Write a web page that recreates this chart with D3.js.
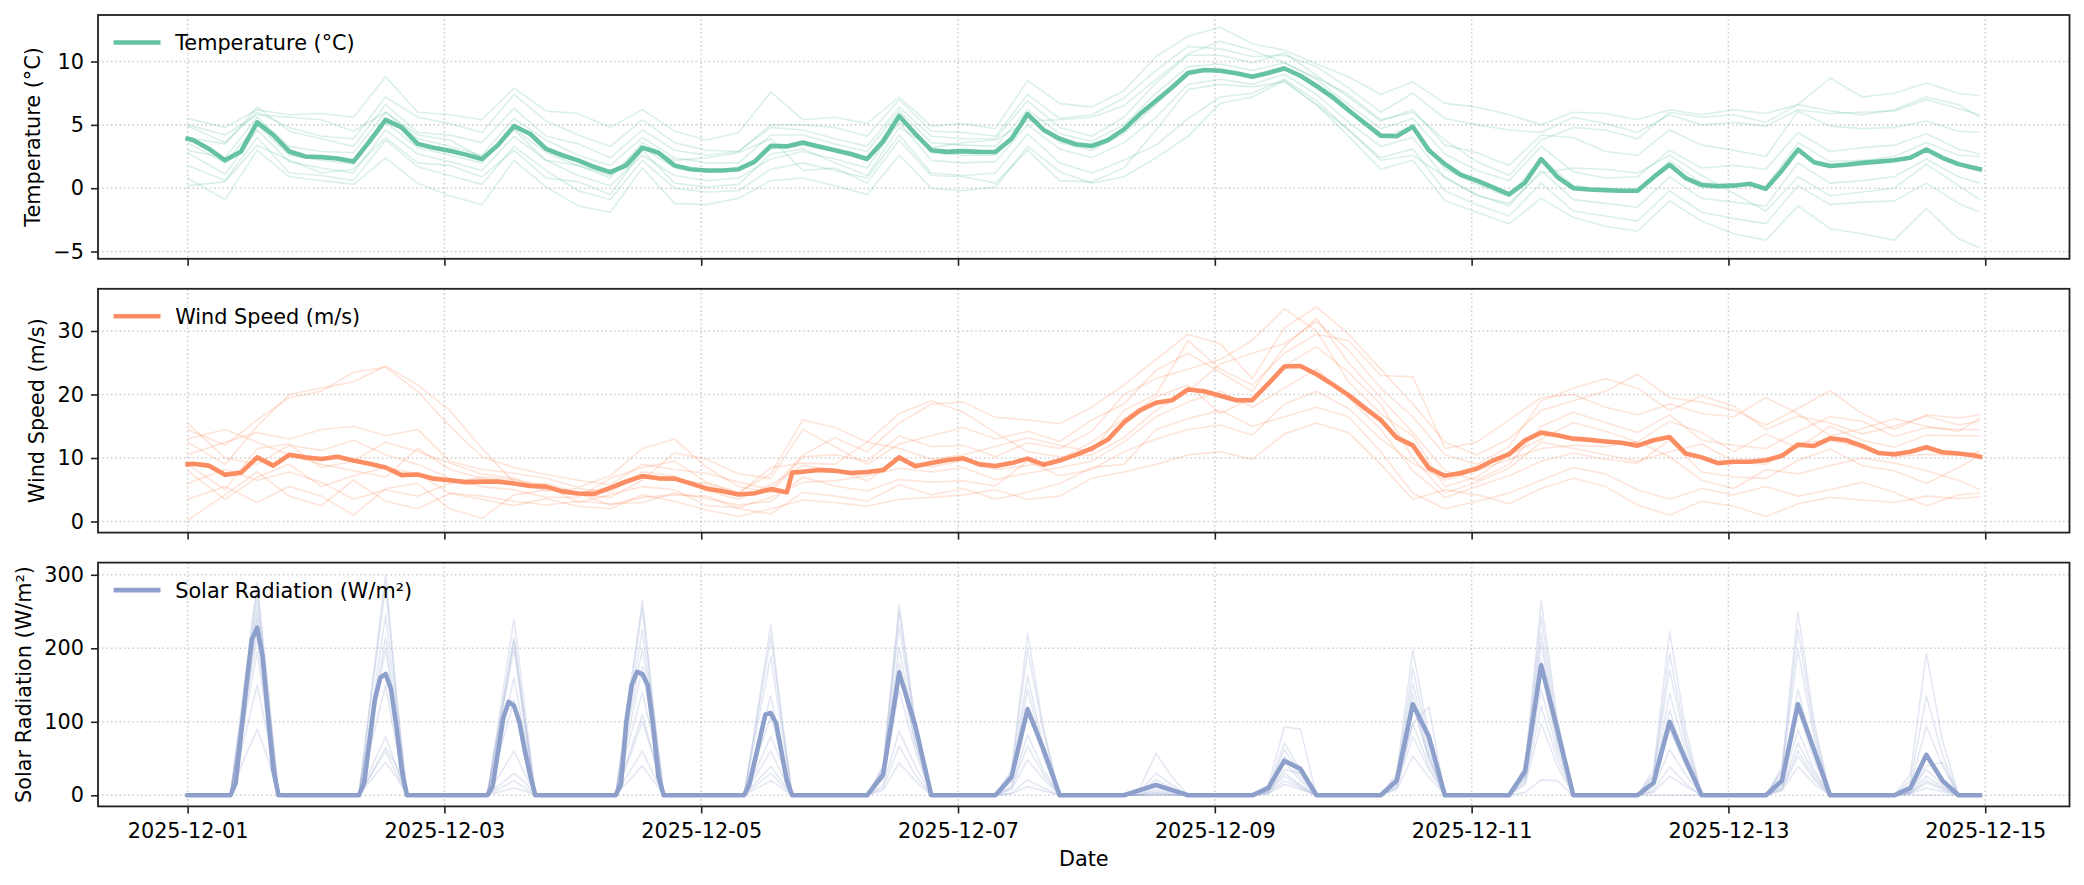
<!DOCTYPE html>
<html><head><meta charset="utf-8">
<script src="https://cdn.jsdelivr.net/npm/d3@7"></script>
<style>
body{margin:0;background:#fff}
svg{display:block}
text{font-family:"DejaVu Sans",sans-serif;fill:#000}
</style>
</head><body>
<svg id="chart" width="2084" height="885"></svg>
<script>
// ---------------- DATA ----------------
const startLabel = "2025-12-01";
const xTickLabels = ["2025-12-01","2025-12-03","2025-12-05","2025-12-07","2025-12-09","2025-12-11","2025-12-13","2025-12-15"];
const xLabel = "Date";

const seriesNames = ["Temperature (°C)", "Wind Speed (m/s)", "Solar Radiation (W/m²)"];
const seriesColors = ["#66c2a5", "#fc8d62", "#8da0cb"];
const tempTicks = [-5, 0, 5, 10];
const windTicks = [0, 10, 20, 30];
const solarTicks = [0, 100, 200, 300];
const tempDomain = [-5.575, 13.675];
const windDomain = [-1.745, 36.645];
const solarDomain = [-15.1, 316.6];

// hours since 2025-12-01 00:00 for the ensemble-mean samples (3-hourly)
const meanHours = [0, ...d3.range(1, 335, 3), 335];
// wind has an extra sample where the forecast source switches
const windHours = [...meanHours, 113].sort((a, b) => a - b);

const tempMean = [3.9,
  3.8, 3.1, 2.2, 2.9, 5.2, 4.2, 2.9, 2.5,
  2.45, 2.35, 2.1, 3.7, 5.4, 4.8, 3.5, 3.2,
  2.95, 2.65, 2.3, 3.4, 4.9, 4.3, 3.1, 2.6,
  2.2, 1.67, 1.27, 1.8, 3.2, 2.8, 1.8, 1.5,
  1.4, 1.4, 1.5, 2.1, 3.35, 3.3, 3.6, 3.3,
  3.0, 2.7, 2.3, 3.7, 5.7, 4.3, 3.0, 2.87,
  2.93, 2.87, 2.86, 3.9, 5.85, 4.6, 3.9, 3.47,
  3.33, 3.8, 4.65, 5.85, 6.9, 7.95, 9.1, 9.33,
  9.27, 9.07, 8.8, 9.1, 9.45, 8.88, 8.07, 7.2,
  6.15, 5.15, 4.15, 4.1, 4.85, 3.0, 1.9, 1.05,
  0.6, 0.07, -0.48, 0.45, 2.3, 0.9, 0.0, -0.1,
  -0.15, -0.2, -0.2, 0.87, 1.85, 0.8, 0.25, 0.15,
  0.2, 0.35, -0.05, 1.4, 3.05, 2.05, 1.75, 1.85,
  2.0, 2.1, 2.2, 2.4, 3.05, 2.4, 1.9, 1.6,
  1.5];

const windMean = [9.0,
  9.1, 8.8, 7.35, 7.7, 10.1, 8.8, 10.5, 10.1,
  9.85, 10.2, 9.6, 9.1, 8.5, 7.3, 7.4, 6.75,
  6.5, 6.2, 6.28, 6.28, 6.0, 5.6, 5.5, 4.75,
  4.4, 4.35, 5.3, 6.3, 7.15, 6.8, 6.75, 6.0,
  5.2, 4.75, 4.25, 4.45, 5.1, 4.6, 7.7, 7.85, 8.1,
  8.0, 7.65, 7.8, 8.1, 10.1, 8.7, 9.2, 9.7,
  9.95, 9.0, 8.74, 9.2, 9.9, 8.95, 9.6, 10.5,
  11.5, 12.9, 15.6, 17.5, 18.7, 19.1, 20.8, 20.5,
  19.8, 19.1, 19.1, 21.7, 24.4, 24.5, 23.2, 21.6,
  19.9, 17.9, 16.0, 13.2, 12.0, 8.4, 7.2, 7.65,
  8.35, 9.6, 10.6, 12.8, 14.0, 13.6, 13.05, 12.85,
  12.6, 12.4, 11.95, 12.8, 13.3, 10.7, 10.1, 9.2,
  9.4, 9.4, 9.65, 10.35, 12.1, 11.9, 13.1, 12.8,
  11.9, 10.8, 10.6, 11.0, 11.7, 10.9, 10.7, 10.4,
  10.2];

const solarHours = [0,
  8, 9, 11, 12, 13, 14, 15, 16, 17,
  32, 33, 35, 36, 37, 38, 39, 40, 41,
  56, 57, 59, 60, 61, 62, 63, 64, 65,
  80, 81, 82, 83, 84, 85, 86, 87, 88, 89,
  104, 105, 108, 109, 110, 112, 113,
  127, 130, 133, 136, 139,
  151, 154, 157, 160, 163,
  175, 178, 181, 184, 187,
  199, 202, 205, 208, 211,
  223, 226, 229, 232, 235,
  247, 250, 253, 256, 259,
  271, 274, 277, 280, 283,
  295, 298, 301, 304, 307,
  319, 322, 325, 328, 331, 335];
const solarMean = [0,
  0, 17, 150, 212, 228, 190, 110, 35, 0,
  0, 17, 130, 160, 165, 145, 95, 35, 0,
  0, 12, 105, 127, 122, 100, 62, 28, 0,
  0, 15, 100, 150, 168, 165, 150, 95, 25, 0,
  0, 15, 110, 112, 98, 20, 0,
  0, 28, 167, 95, 0,
  0, 25, 117, 62, 0,
  0, 7, 14, 7, 0,
  0, 10, 47, 36, 0,
  0, 20, 124, 80, 0,
  0, 33, 177, 90, 0,
  0, 17, 100, 48, 0,
  0, 20, 124, 62, 0,
  0, 10, 55, 20, 0, 0];

// ensemble members: 6-hourly samples (hour 0, then 07,13,19,01 ... , last 23h)
const memberHours = [0, ...d3.range(7, 332, 6), 335];

const tempMembers = [
 [5.5,4.8,6.2,5.8, 5.9,5.6,8.8,6.0, 5.8,5.4,7.9,6.1, 5.9,4.8,6.2,4.5, 3.8,4.4,7.6,5.4, 5.6,5.1,7.2,4.9, 5.1,4.7,8.5,6.7, 6.4,7.7,10.4,12.0, 12.7,11.4,10.9,9.8, 8.8,7.4,8.4,6.7, 6.4,5.8,5.0,6.0, 5.9,5.4,6.2,5.8, 6.2,5.9,6.6,8.7, 7.2,7.5,8.3,7.5, 7.3],
 [4.9,3.6,6.0,4.8, 4.1,3.9,7.2,5.6, 5.1,4.4,7.4,5.3, 4.2,3.3,5.4,3.6, 3.0,2.9,5.0,5.0, 4.8,4.1,7.0,4.5, 4.4,4.1,7.4,5.5, 5.8,7.1,9.3,11.2, 11.0,10.4,10.5,9.6, 7.9,6.0,7.5,5.5, 5.0,4.6,4.4,5.6, 5.1,4.4,5.8,5.0, 5.2,4.9,6.2,5.9, 6.0,6.1,7.0,6.3, 5.8],
 [4.0,3.5,6.4,4.5, 3.9,3.3,6.6,4.4, 4.2,3.6,6.3,4.1, 3.5,2.4,4.6,3.0, 2.6,2.9,4.8,4.6, 3.9,3.3,6.4,4.1, 3.9,3.9,6.9,4.8, 4.1,5.6,8.3,10.5, 10.5,9.9,10.7,8.9, 7.2,5.3,6.2,3.4, 2.8,1.8,4.2,4.0, 2.9,2.6,4.6,3.4, 3.0,2.5,6.1,4.9, 4.7,4.8,5.3,4.5, 4.4],
 [3.0,2.4,5.6,3.3, 2.9,2.8,6.0,3.9, 3.3,2.6,5.5,3.8, 2.6,1.8,4.0,2.4, 2.0,2.0,4.2,4.2, 3.5,2.9,6.1,3.6, 3.4,3.3,6.2,4.3, 3.7,5.0,7.5,9.6, 9.8,9.3,9.9,8.6, 6.6,4.7,5.5,2.7, 1.4,0.6,3.3,1.3, 0.8,0.9,3.0,1.6, 1.8,1.5,4.4,2.9, 3.2,3.4,4.3,3.1, 2.7],
 [3.6,2.0,5.0,2.6, 2.2,1.9,5.2,3.2, 2.6,2.0,4.7,2.8, 1.8,1.0,3.2,1.6, 1.3,1.4,3.1,3.4, 2.9,2.2,5.7,2.8, 2.6,2.6,5.6,3.6, 3.0,4.3,6.6,9.1, 9.4,8.9,9.6,8.0, 6.0,4.0,4.9,1.5, 0.3,-0.7,2.4,0.2, -0.1,-0.3,2.2,0.4, 0.3,0.1,3.6,2.1, 2.2,2.5,3.6,2.6, 2.5],
 [2.8,1.1,4.6,2.1, 1.6,1.2,4.6,2.7, 2.1,1.4,4.1,2.2, 1.0,0.2,2.6,1.0, 0.6,0.8,2.3,2.9, 2.3,1.6,5.2,2.2, 2.0,2.1,5.0,3.1, 2.4,3.6,5.6,8.2, 8.6,8.2,9.0,7.4, 5.2,3.3,4.0,0.8, -0.5,-1.4,1.4,-0.9, -1.2,-1.5,0.9,-0.8, -1.1,-1.4,2.0,0.4, 0.6,0.9,2.3,0.9, 0.4],
 [1.8,0.6,4.0,1.2, 1.0,0.6,3.8,1.7, 1.0,0.3,3.3,1.4, -0.2,-0.9,2.2,0.0, -0.3,-0.2,1.5,2.0, 1.4,0.8,4.2,1.2, 1.0,1.2,4.3,2.0, 1.2,2.2,3.4,5.5, 7.2,7.5,8.6,6.9, 4.6,2.4,3.1,-0.2, -1.3,-2.2,0.4,-1.8, -2.2,-2.6,-0.2,-1.9, -2.4,-2.8,0.2,-1.3, -1.1,-1.0,0.4,-1.2, -1.9],
 [0.8,-0.9,3.0,0.9, 0.6,0.3,2.4,0.4, -0.6,-1.3,2.2,0.1, -1.4,-1.9,1.6,-1.2, -1.3,-0.8,0.6,0.8, 0.2,-0.5,2.6,0.0, -0.2,0.1,3.3,1.3, 0.4,0.9,2.4,4.1, 6.7,7.2,8.5,6.6, 4.1,1.5,2.2,-1.0, -1.9,-2.8,-0.8,-2.3, -3.0,-3.4,-1.0,-2.6, -3.6,-4.1,-1.4,-3.2, -3.6,-4.1,-1.6,-4.0, -4.7],
 [0.2,0.5,3.4,2.2, 1.2,1.5,4.0,2.0, 1.8,0.9,3.0,0.8, 0.5,-0.5,3.0,0.4, 0.1,0.3,2.7,3.1, 2.0,1.0,4.8,3.2, 3.6,3.8,5.3,5.4, 5.6,6.5,8.6,10.6, 11.6,10.9,9.9,8.7, 7.4,5.4,6.0,3.8, 2.1,1.0,3.8,4.8, 4.6,3.9,6.0,5.6, 5.8,5.2,6.6,6.1, 5.8,6.2,7.2,6.6, 5.6],
 [5.0,4.2,5.8,5.6, 5.4,4.5,6.0,4.2, 3.8,2.4,4.6,2.2, 1.8,0.8,3.6,2.2, 2.4,2.8,3.9,1.4, 1.6,0.4,3.8,1.0, 0.9,0.4,3.0,0.6, 0.5,1.6,4.6,7.8, 8.2,8.0,8.4,6.6, 4.6,2.2,2.6,0.9, -0.6,-1.2,1.2,1.6, 1.5,1.2,2.6,1.0, -0.4,-1.8,0.9,-0.6, -0.3,0.0,1.9,0.2, -0.9]
];

const windMembers = [
 [14.5,12.0,16.0,19.5, 20.5,23.5,24.3,20.5, 15.0,10.2,8.5,7.4, 6.5,5.8,9.0,8.2, 7.6,6.2,5.0,10.5, 13.2,11.0,15.5,18.5, 18.8,16.4,16.0,15.4, 18.0,21.5,25.5,29.5, 28.0,22.5,30.5,33.8, 29.5,24.0,18.5,12.5, 10.5,13.0,17.5,19.0, 20.5,23.2,19.5,18.8, 17.5,15.2,17.8,20.6, 17.0,14.5,16.8,16.3, 16.8],
 [12.5,9.0,15.0,20.0, 21.0,22.0,24.5,21.5, 17.5,11.5,6.2,5.5, 4.2,3.8,6.5,10.8, 9.8,7.5,6.8,14.5, 11.8,9.0,12.2,13.5, 14.8,13.0,14.2,12.6, 16.0,18.5,23.8,26.5, 23.5,20.5,27.5,32.0, 25.0,19.5,14.0,8.0, 6.5,9.0,15.0,17.2, 15.6,14.0,16.8,12.8, 12.0,11.5,14.2,16.5, 15.8,13.4,14.8,14.5, 14.5],
 [10.5,12.5,14.0,13.0, 14.5,15.0,13.5,14.5, 9.5,8.2,7.6,6.8, 5.4,7.2,11.5,13.0, 8.5,5.5,4.5,10.2, 10.5,9.5,13.5,11.8, 12.0,10.2,12.4,11.5, 14.2,20.0,22.5,24.0, 25.5,28.5,33.5,30.0, 22.0,17.0,13.5,5.5, 7.0,10.5,13.0,15.6, 14.2,12.5,15.8,14.0, 11.0,13.8,11.6,15.0, 12.8,11.7,13.6,13.5, 13.5],
 [9.0,5.0,11.5,12.2, 8.5,9.5,12.5,11.0, 9.2,7.5,6.8,4.8, 5.2,4.6,7.8,7.2, 4.8,3.5,5.8,8.8, 8.2,6.4,9.8,8.6, 9.6,8.2,8.8,9.8, 12.5,16.2,19.6,21.5, 17.0,19.5,24.5,27.5, 23.5,18.5,10.0,4.5, 6.2,8.4,12.5,11.5, 10.5,9.5,11.0,12.2, 9.5,9.0,12.4,12.8, 11.6,10.2,10.6,10.4, 11.0],
 [6.0,8.2,6.5,7.8, 6.2,3.5,5.0,4.0, 6.0,7.0,6.6,5.6, 3.0,4.2,5.5,5.0, 2.5,2.2,3.8,6.2, 6.4,7.2,8.4,7.8, 8.5,6.6,7.6,8.5, 9.5,12.5,16.5,18.8, 20.5,18.0,21.0,24.0, 19.5,14.5,8.0,3.8, 5.5,7.2,9.5,10.8, 9.8,9.2,12.8,7.8, 7.0,6.8,9.6,11.4, 8.8,8.0,6.0,8.5, 10.4],
 [3.5,5.5,3.0,5.5, 4.0,1.0,5.2,6.0, 2.0,0.5,4.2,5.0, 4.4,2.6,3.8,4.2, 4.0,2.0,1.2,4.6, 4.0,3.2,5.8,4.2, 5.2,3.5,4.6,6.0, 8.5,9.0,14.5,16.2, 17.5,15.0,16.5,18.0, 16.5,11.0,4.5,2.0, 3.2,4.5,6.5,8.5, 7.5,5.0,3.5,5.2, 4.2,5.5,4.0,5.0, 6.2,4.6,2.5,4.2, 4.5],
 [0.2,4.2,7.8,4.0, 2.5,6.5,3.2,2.0, 4.4,3.5,2.5,3.6, 2.4,2.0,4.2,3.2, 1.8,0.8,2.0,3.4, 3.0,2.4,3.5,3.8, 4.2,5.0,3.5,4.0, 6.8,7.8,9.0,10.5, 11.0,9.8,13.8,15.5, 14.0,9.0,3.5,5.0, 4.2,2.8,5.2,6.8, 5.5,2.6,1.0,3.2, 2.4,0.8,2.8,3.8, 3.4,3.0,4.0,3.6, 3.9],
 [15.5,10.0,9.0,12.0, 11.2,12.8,10.5,9.0, 6.8,5.5,5.0,3.8, 3.8,6.8,8.5,9.5, 6.2,4.6,7.5,16.0, 14.8,12.5,17.0,19.0, 17.2,14.0,11.0,10.2, 10.5,13.2,17.5,20.5, 24.8,26.5,28.0,31.5, 27.0,21.0,16.5,10.5, 9.0,11.8,19.0,21.0, 22.5,21.0,17.5,19.8, 18.2,14.5,16.6,15.5, 13.8,15.0,16.6,15.2, 15.8],
 [8.0,3.5,7.0,9.0, 5.5,7.2,8.5,7.5, 4.5,4.0,3.2,2.6, 3.2,2.8,3.0,4.5, 3.6,2.6,3.2,7.0, 5.6,4.8,6.6,6.2, 6.4,5.6,9.5,7.2, 8.2,11.0,13.0,14.5, 15.2,13.6,18.5,20.5, 17.8,13.0,9.2,6.5, 8.0,9.8,11.5,12.0, 11.8,12.6,10.2,6.5, 5.2,8.2,7.5,8.8, 10.0,9.2,8.0,6.5, 5.0],
 [13.0,14.5,12.5,10.5, 9.0,8.0,7.0,11.5, 8.2,6.8,6.0,6.0, 4.5,5.4,7.2,6.5, 6.0,4.4,8.5,9.2, 9.0,12.5,11.5,9.8, 10.5,11.8,13.2,12.0, 11.0,17.5,20.0,28.5, 24.0,21.5,26.5,29.5, 28.5,23.0,22.8,11.5, 12.5,16.0,19.5,20.0, 18.0,16.8,18.5,17.0, 16.5,19.5,17.0,13.5, 14.6,16.2,15.0,14.2, 16.3]
];

// solar members: per day [morning, midday, afternoon] values; zero at night
const solarEarlyOffsets = [8, 10, 13, 15, 17];   // hourly-resolution days 1-5
const solarLateOffsets = [7, 10, 13, 16, 19];    // 3-hourly days 6-14
const solarMembers = [
 [[115,290,150],[95,245,120],[80,200,95],[60,140,75],[90,232,110],[25,170,70],[30,198,85],[1,5,2],[8,53,25],[20,139,55],[30,207,80],[10,62,28],[22,144,60],[5,35,15]],
 [[60,150,80],[120,300,140],[12,30,18],[110,265,125],[30,80,45],[40,259,100],[8,48,22],[4,21,10],[14,93,90],[25,173,70],[40,264,105],[20,139,60],[14,89,35],[28,193,75]],
 [[100,265,135],[25,65,40],[95,240,120],[40,100,55],[75,189,90],[14,87,40],[35,220,90],[0,0,0],[3,20,10],[8,53,25],[22,144,60],[35,223,90],[38,250,100],[3,17,8]],
 [[90,230,115],[80,200,100],[50,130,65],[90,225,110],[12,30,15],[38,250,95],[18,121,50],[10,57,25],[5,35,30],[30,198,80],[4,21,20],[14,89,40],[8,53,22],[14,94,40]],
 [[40,90,50],[60,150,70],[85,210,100],[100,255,120],[55,135,65],[7,44,20],[25,162,65],[0,2,1],[10,71,35],[15,98,40],[36,243,95],[4,26,12],[30,198,80],[3,20,10]],
 [[110,280,140],[18,45,25],[65,160,80],[25,60,30],[85,215,105],[30,202,80],[2,12,6],[5,30,14],[2,15,8],[18,125,50],[28,184,75],[26,171,70],[18,116,48],[6,40,45]],
 [[85,215,105],[115,285,135],[8,20,10],[70,175,85],[24,60,30],[35,230,90],[22,144,60],[0,0,0],[9,62,30],[12,80,35],[15,98,40],[18,116,48],[34,225,90],[20,135,55]],
 [[100,250,125],[32,80,40],[85,215,105],[16,40,20],[42,107,55],[22,144,60],[10,67,28],[2,12,6],[4,26,12],[23,153,62],[33,221,88],[0,0,0],[6,39,16],[2,10,5]],
 [[78,195,95],[86,215,105],[4,10,6],[80,200,100],[8,20,10],[27,180,72],[12,82,34],[1,8,4],[7,45,20],[18,125,50],[25,170,68],[29,193,78],[11,71,30],[4,26,12]],
 [[95,240,120],[24,60,30],[24,60,30],[44,110,55],[16,39,20],[10,67,28],[3,21,10],[0,3,1],[5,30,14],[10,98,120],[18,121,50],[6,39,16],[9,60,25],[0,0,0]]
];

// ---------------- LAYOUT ----------------
const svg = d3.select("#chart");
const L = 98, R = 2069.5, PH = 243.8;
const panelTops = [15, 288.8, 562.6];
const FS = 20.8;
const parse = d3.utcParse("%Y-%m-%d");
const t0 = parse(startLabel).getTime();
const toDate = h => new Date(t0 + h * 3600e3);
const xTickDates = xTickLabels.map(parse);

const x = d3.scaleUtc().domain([toDate(-16.75), toDate(351.75)]).range([L, R]);

const pairs = (hours, vals) => vals.map((v, k) => [hours[k], v]);
function solarMemberSeries(days) {
  const pts = [[0, 0]];
  days.forEach((p, d) => {
    const off = d < 5 ? solarEarlyOffsets : solarLateOffsets;
    const vals = [0, p[0], p[1], p[2], 0];
    off.forEach((o, i) => pts.push([24 * d + o, vals[i]]));
  });
  pts.push([335, 0]);
  return pts;
}

const panels = [
  {name: seriesNames[0], color: seriesColors[0], domain: tempDomain, ticks: tempTicks,
   mean: pairs(meanHours, tempMean), members: tempMembers.map(m => pairs(memberHours, m))},
  {name: seriesNames[1], color: seriesColors[1], domain: windDomain, ticks: windTicks,
   mean: pairs(windHours, windMean), members: windMembers.map(m => pairs(memberHours, m))},
  {name: seriesNames[2], color: seriesColors[2], domain: solarDomain, ticks: solarTicks,
   mean: pairs(solarHours, solarMean), members: solarMembers.map(solarMemberSeries)}
];

const defs = svg.append("defs");

panels.forEach((p, i) => {
  const top = panelTops[i], bottom = top + PH;
  const y = d3.scaleLinear().domain(p.domain).range([bottom, top]);
  const g = svg.append("g");

  defs.append("clipPath").attr("id", "clip" + i)
    .append("rect").attr("x", L).attr("y", top).attr("width", R - L).attr("height", PH);

  // grid
  const grid = g.append("g").attr("stroke", "#b0b0b0").attr("stroke-opacity", 0.6)
    .attr("stroke-width", 1.6).attr("stroke-dasharray", "1.6,2.7");
  grid.selectAll(".vx").data(xTickDates).join("line")
    .attr("x1", d => x(d)).attr("x2", d => x(d)).attr("y1", top).attr("y2", bottom);
  grid.selectAll(".hy").data(p.ticks).join("line")
    .attr("x1", L).attr("x2", R).attr("y1", d => y(d)).attr("y2", d => y(d));

  const line = d3.line().x(d => x(toDate(d[0]))).y(d => y(d[1]));
  const data = g.append("g").attr("clip-path", `url(#clip${i})`);
  data.selectAll(".member").data(p.members).join("path")
    .attr("d", line).attr("fill", "none").attr("stroke", p.color)
    .attr("stroke-width", 1.6).attr("stroke-opacity", 0.24).attr("stroke-linejoin", "round");
  data.append("path").attr("d", line(p.mean)).attr("fill", "none")
    .attr("stroke", p.color).attr("stroke-width", 4.6)
    .attr("stroke-linejoin", "round").attr("stroke-linecap", "square");

  // axes
  const ya = g.append("g").attr("transform", `translate(${L},0)`)
    .call(d3.axisLeft(y).tickValues(p.ticks).tickSize(7).tickPadding(7).tickFormat(d3.format("d")));
  const xa = g.append("g").attr("transform", `translate(0,${bottom})`)
    .call(d3.axisBottom(x).tickValues(xTickDates).tickSize(7).tickPadding(10)
      .tickFormat(i === 2 ? d3.utcFormat("%Y-%m-%d") : () => ""));
  [ya, xa].forEach(a => {
    a.select(".domain").remove();
    a.selectAll(".tick line").attr("stroke", "#222").attr("stroke-width", 1.6);
    a.selectAll(".tick text").attr("font-size", FS).attr("font-family", "DejaVu Sans").attr("fill", "#000");
  });

  // frame
  g.append("rect").attr("x", L).attr("y", top).attr("width", R - L).attr("height", PH)
    .attr("fill", "none").attr("stroke", "#222").attr("stroke-width", 1.8);

  // legend
  const ly = top + 27.5;
  g.append("line").attr("x1", L + 15.6).attr("x2", L + 62.5).attr("y1", ly).attr("y2", ly)
    .attr("stroke", p.color).attr("stroke-width", 4.6);
  g.append("text").attr("x", L + 77.2).attr("y", ly + 7.6).attr("font-size", FS).text(p.name);

  // y label, placed left of the widest tick label
  let maxW = 0;
  ya.selectAll(".tick text").each(function () { maxW = Math.max(maxW, this.getComputedTextLength()); });
  const lx = L - 14 - maxW - 20.7;
  g.append("text").attr("transform", `translate(${lx},${(top + bottom) / 2}) rotate(-90)`)
    .attr("text-anchor", "middle").attr("dominant-baseline", "central")
    .attr("font-size", FS).text(p.name);
});

svg.append("text").attr("x", (L + R) / 2).attr("y", 866).attr("text-anchor", "middle")
  .attr("font-size", FS).text(xLabel);
</script>
</body></html>
